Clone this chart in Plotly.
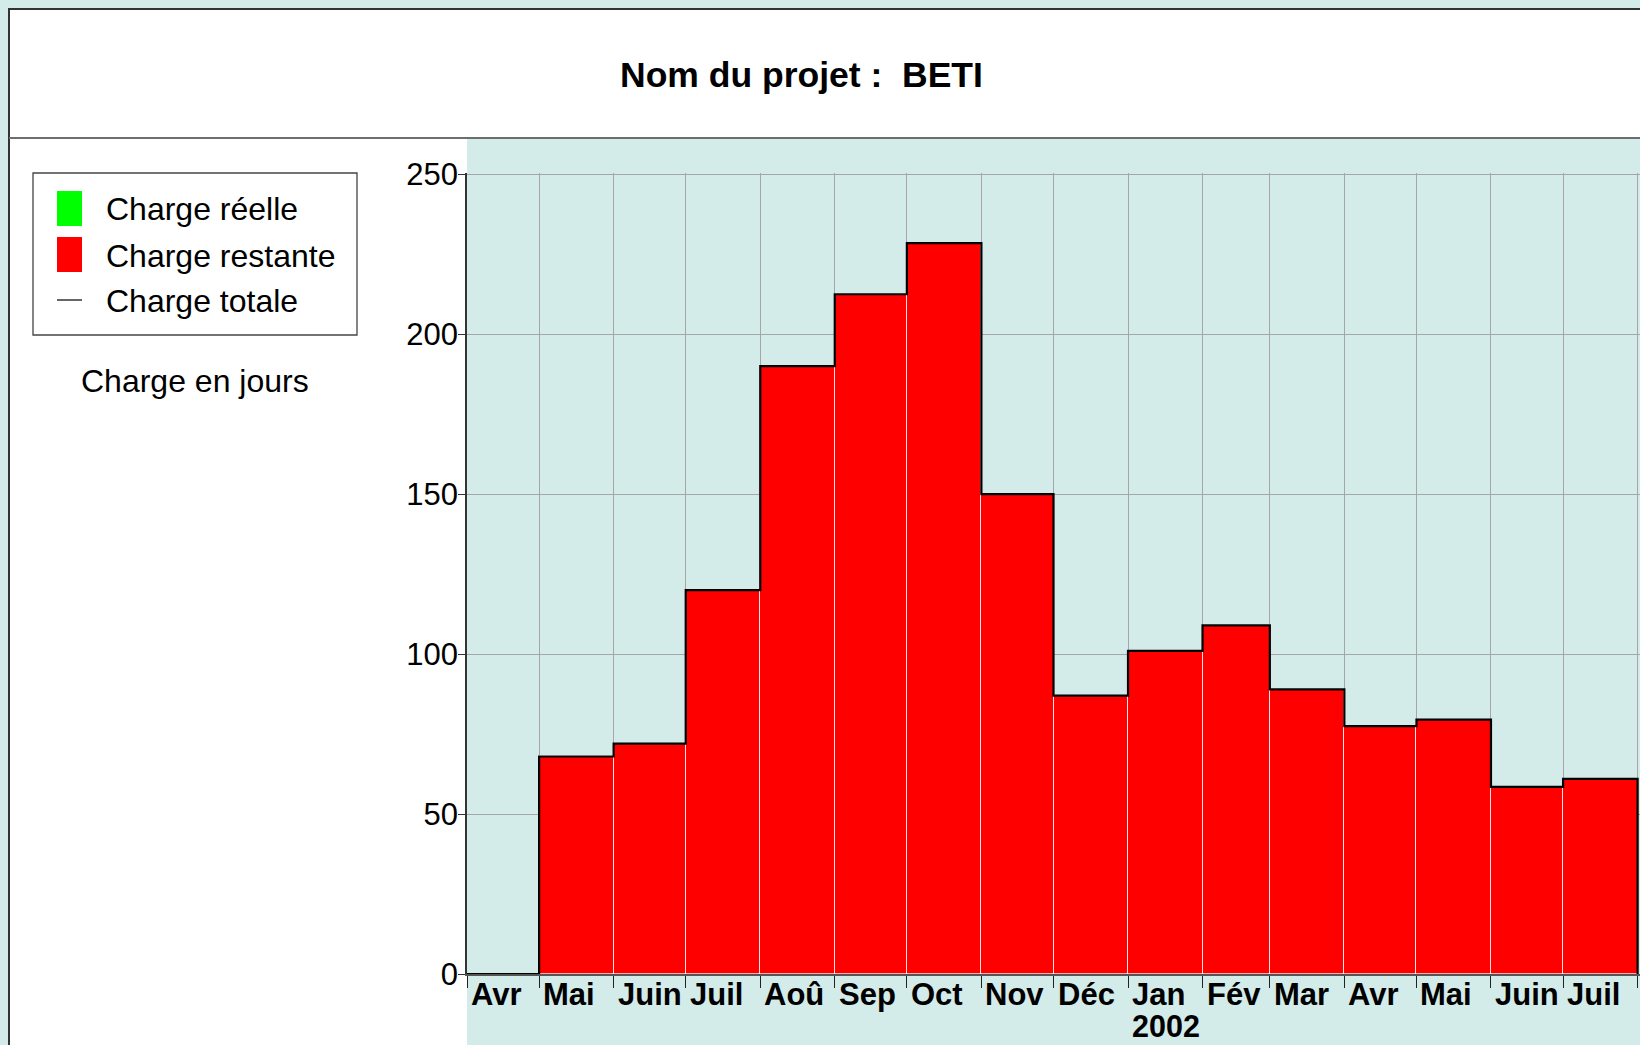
import plotly.graph_objects as go
import pandas as pd

# ---------------- data ----------------
month_labels = ["Avr", "Mai", "Juin", "Juil", "Aoû", "Sep", "Oct", "Nov",
                "Déc", "Jan", "Fév", "Mar", "Avr", "Mai", "Juin", "Juil"]
month_starts = ["2001-04-01", "2001-05-01", "2001-06-01", "2001-07-01",
                "2001-08-01", "2001-09-01", "2001-10-01", "2001-11-01",
                "2001-12-01", "2002-01-01", "2002-02-01", "2002-03-01",
                "2002-04-01", "2002-05-01", "2002-06-01", "2002-07-01"]
period_end = "2002-08-01"
year_label = "2002"
year_month = "2002-01-01"
charge_reelle = [0, 0, 0, 0, 0, 0, 0, 0, 0, 0, 0, 0, 0, 0, 0, 0]
charge_restante = [0, 68, 72, 120, 190, 212.5, 228.5, 150, 87, 101, 109, 89,
                   77.5, 79.5, 58.5, 61]
y_ticks = [0, 50, 100, 150, 200, 250]
legend_names = ["Charge réelle", "Charge restante", "Charge totale"]
title_text = "Nom du projet :\u00a0 BETI"
y_title = "Charge en jours"

# ---------------- styling / layout helpers ----------------
W, H = 1640, 1045
FONT = "Liberation Sans, Arial, sans-serif"
BG_BLUE = "#d3ebe9"
GRID = "#a6a6a6"
GREEN = "#00ff00"
RED = "#ff0000"

PLOT_L, PLOT_R, PLOT_T, PLOT_B = 467, 1640, 173, 974


def X(px):
    return px / W


def Y(py):
    return 1 - py / H


charge_totale = [a + b for a, b in zip(charge_reelle, charge_restante)]

starts = pd.to_datetime(month_starts)
ends = pd.to_datetime(month_starts[1:] + [period_end])
widths_ms = [(e - s).total_seconds() * 1000 for s, e in zip(starts, ends)]
days = [(e - s).days for s, e in zip(starts, ends)]

x_range_end = pd.to_datetime(period_end) + pd.Timedelta(days=1)
range_days = (x_range_end - starts[0]).days
px_per_day = (PLOT_R - PLOT_L) / range_days

fig = go.Figure()

fig.add_trace(go.Bar(
    name=legend_names[0], x=month_starts, y=charge_reelle,
    width=widths_ms, offset=0,
    marker=dict(color=GREEN, line=dict(color="rgba(255,255,255,0.85)", width=0.8)),
    showlegend=False, hoverinfo="skip"))
fig.add_trace(go.Bar(
    name=legend_names[1], x=month_starts, y=charge_restante,
    width=widths_ms, offset=0,
    marker=dict(color=RED, line=dict(color="rgba(255,255,255,0.85)", width=0.8)),
    showlegend=False, hoverinfo="skip"))
fig.add_trace(go.Scatter(
    name=legend_names[2], x=month_starts + [period_end], y=charge_totale + [0],
    mode="lines", line=dict(color="#000000", width=2.2, shape="hv"),
    showlegend=False, hoverinfo="skip"))

shapes = [
    # white sheet
    dict(type="rect", xref="paper", yref="paper", layer="below",
         x0=X(9), y0=Y(9), x1=X(1680), y1=Y(1080),
         fillcolor="white", line=dict(color="#333333", width=2)),
    # blue plot panel
    dict(type="rect", xref="paper", yref="paper", layer="below",
         x0=X(PLOT_L), y0=Y(139), x1=X(1680), y1=Y(1080),
         fillcolor=BG_BLUE, line=dict(width=0)),
    # separator under title
    dict(type="line", xref="paper", yref="paper", layer="above",
         x0=X(9), y0=Y(138), x1=X(1680), y1=Y(138),
         line=dict(color="#6e6e6e", width=2)),
    # legend box
    dict(type="rect", xref="paper", yref="paper", layer="above",
         x0=X(33), y0=Y(173), x1=X(357), y1=Y(335),
         fillcolor="white", line=dict(color="#444444", width=1.3)),
    dict(type="rect", xref="paper", yref="paper", layer="above",
         x0=X(57), y0=Y(191), x1=X(82), y1=Y(226),
         fillcolor=GREEN, line=dict(width=0)),
    dict(type="rect", xref="paper", yref="paper", layer="above",
         x0=X(57), y0=Y(237), x1=X(82), y1=Y(272),
         fillcolor=RED, line=dict(width=0)),
    dict(type="line", xref="paper", yref="paper", layer="above",
         x0=X(57), y0=Y(300), x1=X(82), y1=Y(300),
         line=dict(color="#000000", width=1.2)),
]

annotations = [
    dict(text="<b>%s</b>" % title_text, xref="paper", yref="paper",
         x=X(801), y=Y(75), xanchor="center", yanchor="middle",
         showarrow=False, font=dict(family=FONT, size=35.5, color="black")),
    dict(text=y_title, xref="paper", yref="paper",
         x=X(195), y=Y(381), xanchor="center", yanchor="middle",
         showarrow=False, font=dict(family=FONT, size=32, color="black")),
]
legend_y = [209, 256, 301]
for name, ly in zip(legend_names, legend_y):
    annotations.append(dict(text=name, xref="paper", yref="paper",
                            x=X(104), y=Y(ly), xanchor="left", yanchor="middle",
                            showarrow=False,
                            font=dict(family=FONT, size=32, color="black")))

for lab, ms, nd in zip(month_labels, month_starts, days):
    annotations.append(dict(text="<b>%s</b>" % lab, xref="x", yref="paper",
                            x=ms, y=Y(994), xanchor="left", yanchor="middle",
                            xshift=2, align="left",
                            width=max(nd * px_per_day - 4, 10),
                            showarrow=False,
                            font=dict(family=FONT, size=31, color="black")))
annotations.append(dict(text="<b>%s</b>" % year_label, xref="x", yref="paper",
                        x=year_month, y=Y(1026), xanchor="left", yanchor="middle",
                        xshift=2, showarrow=False,
                        font=dict(family=FONT, size=30.5, color="black")))

fig.update_layout(
    width=W, height=H,
    margin=dict(l=0, r=0, t=0, b=0, pad=0, autoexpand=False),
    paper_bgcolor=BG_BLUE, plot_bgcolor="rgba(0,0,0,0)",
    barmode="stack", bargap=0,
    shapes=shapes, annotations=annotations,
    showlegend=False,
    xaxis=dict(
        type="date",
        domain=[X(PLOT_L), X(PLOT_R)],
        range=[starts[0], x_range_end],
        tickmode="array", tickvals=month_starts + [period_end],
        showticklabels=False,
        ticks="outside", ticklen=12, tickcolor="#222222", tickwidth=1,
        showgrid=True, gridcolor=GRID, gridwidth=1,
        showline=True, linecolor="#555555", linewidth=1.5,
        zeroline=False, fixedrange=True, automargin=False,
    ),
    yaxis=dict(
        domain=[Y(PLOT_B), Y(PLOT_T)],
        range=[0, 250.4],
        tickmode="array", tickvals=y_ticks,
        ticks="outside", ticklen=7, tickcolor="#333333", tickwidth=1,
        ticklabelstandoff=-6,
        tickfont=dict(family=FONT, size=31, color="black"),
        showgrid=True, gridcolor=GRID, gridwidth=1,
        showline=True, linecolor="#333333", linewidth=1.5,
        zeroline=False, fixedrange=True, automargin=False,
    ),
)

fig.write_html("out.html",
               config={"displayModeBar": False},
               post_script="document.body.style.margin='0';"
                           "document.body.style.overflow='hidden';")
